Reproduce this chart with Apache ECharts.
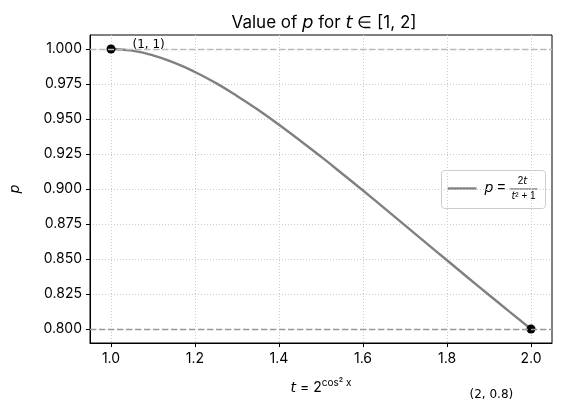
<!DOCTYPE html>
<html>
<head>
<meta charset="utf-8">
<script src="https://cdn.jsdelivr.net/npm/echarts@6/dist/echarts.min.js"></script>
<style>
  html, body { margin: 0; padding: 0; background: #fff; }
  #main { width: 562px; height: 413px; }
</style>
</head>
<body>
<div id="main"></div>
<script>
// curve samples
const tValues = [1.0, 1.05, 1.1, 1.15, 1.2, 1.25, 1.3, 1.35, 1.4, 1.45, 1.5,
                 1.55, 1.6, 1.65, 1.7, 1.75, 1.8, 1.85, 1.9, 1.95, 2.0];
const pValues = [1.0, 0.9988, 0.9955, 0.9903, 0.9836, 0.9756, 0.9665, 0.9566, 0.9459, 0.9347, 0.9231,
                 0.9111, 0.8989, 0.8865, 0.8740, 0.8615, 0.8491, 0.8366, 0.8243, 0.8121, 0.8];
const endPoints = [[1, 1], [2, 0.8]];
const endLabels = ['(1, 1)', '(2, 0.8)'];
const xTicks = [1.0, 1.2, 1.4, 1.6, 1.8, 2.0];
const yTicks = [0.8, 0.825, 0.85, 0.875, 0.9, 0.925, 0.95, 0.975, 1.0];
const refLines = [1.0, 0.8];

const FONT = 'Inter';
const MATH = 'DejaVu Sans';
const chart = echarts.init(document.getElementById('main'));

const option = {
    animation: false,
    textStyle: { fontFamily: FONT },
    title: {
        text: 'Value of {i|p} for {i|t} ∈ [1, 2]',
        left: 319, top: 9, textAlign: 'center',
        textStyle: {
            fontSize: 17, fontWeight: 'normal', color: '#000', fontFamily: FONT,
            rich: { i: { fontSize: 18, fontStyle: 'italic', fontFamily: MATH } }
        }
    },
    grid: {
        left: 87, right: 10, top: 35, bottom: 70,
        show: true, borderColor: '#000', borderWidth: 1
    },
    xAxis: {
        type: 'value', min: 0.95, max: 2.05,
        name: '{i|t} = 2{s|cos² x}', nameLocation: 'middle', nameGap: 35,
        nameTextStyle: {
            fontSize: 14, color: '#000',
            rich: {
                i: { fontSize: 14, fontStyle: 'italic', fontFamily: MATH },
                s: { fontSize: 10, padding: [0, 0, 10, 0] }
            }
        },
        axisLine: { show: true, onZero: false, lineStyle: { color: '#000' } },
        axisTick: { show: true, length: 4, customValues: xTicks, lineStyle: { color: '#000' } },
        axisLabel: {
            customValues: xTicks, fontSize: 14, color: '#000', margin: 9,
            formatter: v => v.toFixed(1)
        },
        splitLine: { show: true, customValues: xTicks, lineStyle: { color: '#ccc', type: [1, 2] } }
    },
    yAxis: {
        type: 'value', min: 0.79, max: 1.01,
        name: 'p', nameLocation: 'middle', nameGap: 68, nameRotate: 90,
        nameTextStyle: { fontSize: 14, fontStyle: 'italic', color: '#000', fontFamily: MATH },
        axisLine: { show: true, onZero: false, lineStyle: { color: '#000' } },
        axisTick: { show: true, length: 4, customValues: yTicks, lineStyle: { color: '#000' } },
        axisLabel: {
            customValues: yTicks, fontSize: 14, color: '#000', margin: 8,
            formatter: v => v.toFixed(3)
        },
        splitLine: { show: true, customValues: yTicks, lineStyle: { color: '#ccc', type: [1, 2] } }
    },
    series: [
        {
            type: 'line',
            data: tValues.map((t, i) => [t, pValues[i]]),
            smooth: true, showSymbol: false,
            lineStyle: { color: '#808080', width: 2.4 },
            markLine: {
                silent: true, symbol: 'none', label: { show: false },
                data: [
                    { yAxis: refLines[0], lineStyle: { color: '#bbb', type: [6, 3], width: 1.4 } },
                    { yAxis: refLines[1], lineStyle: { color: '#999', type: [6, 3], width: 1.4 } }
                ]
            },
            z: 3
        },
        {
            type: 'scatter',
            data: [
                { value: endPoints[0], label: { offset: [12, -4] } },
                { value: endPoints[1], label: { offset: [-71, 66] } }
            ],
            symbolSize: 9,
            itemStyle: { color: '#000', opacity: 1 },
            label: {
                show: true, position: 'right',
                formatter: p => endLabels[p.dataIndex],
                fontSize: 12, color: '#000', fontFamily: MATH
            },
            z: 4
        }
    ],
    graphic: [
        {
            type: 'group', left: 441, top: 170,
            children: [
                { type: 'rect', shape: { x: 0, y: 0, width: 104, height: 38, r: 3 },
                  style: { fill: 'rgba(255,255,255,0.85)', stroke: '#ccc', lineWidth: 1 } },
                { type: 'line', shape: { x1: 6, y1: 18, x2: 35, y2: 18 },
                  style: { stroke: '#808080', lineWidth: 2.4 } },
                { type: 'text', x: 43, y: 18,
                  style: { text: '{i|p} =', verticalAlign: 'middle', fontSize: 14, fill: '#000',
                           rich: { i: { fontSize: 14, fontStyle: 'italic', fontFamily: MATH } } } },
                { type: 'text', x: 81, y: 11,
                  style: { text: '2{i|t}', align: 'center', verticalAlign: 'middle', fontSize: 10, fill: '#000',
                           rich: { i: { fontSize: 10, fontStyle: 'italic', fontFamily: MATH } } } },
                { type: 'line', shape: { x1: 68, y1: 18.5, x2: 96, y2: 18.5 },
                  style: { stroke: '#000', lineWidth: 0.7 } },
                { type: 'text', x: 82, y: 26,
                  style: { text: '{i|t}² + 1', align: 'center', verticalAlign: 'middle', fontSize: 10, fill: '#000',
                           rich: { i: { fontSize: 10, fontStyle: 'italic', fontFamily: MATH } } } }
            ]
        }
    ]
};

chart.setOption(option);
</script>
</body>
</html>
